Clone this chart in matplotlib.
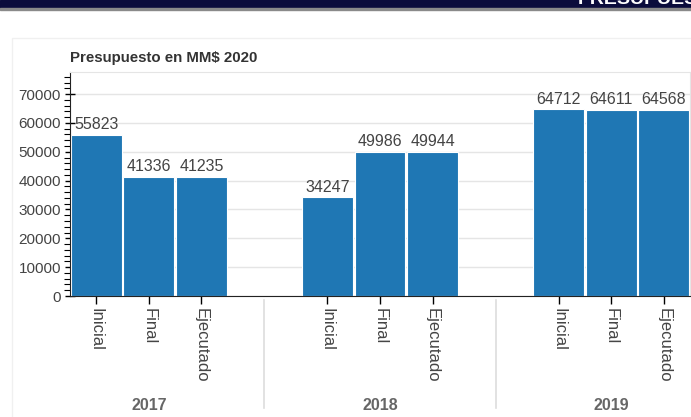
import matplotlib

matplotlib.use("Agg")
import matplotlib.pyplot as plt
import matplotlib.transforms as mtransforms
from matplotlib.patches import Rectangle
from matplotlib.ticker import MultipleLocator

# data
years = ["2017", "2018", "2019"]
stages = ["Inicial", "Final", "Ejecutado"]
inicial = [55823, 34247, 64712]
final = [41336, 49986, 64611]
ejecutado = [41235, 49944, 64568]

BLUE = "#1f77b4"
GREY_TXT = "#444444"
GROUP_PAD = 1.4

plt.rcParams.update({
    "font.family": ["Liberation Sans", "DejaVu Sans"],
    "font.size": 11,
})

W, H = 691, 417
fig = plt.figure(figsize=(W / 100, H / 100), dpi=100)

# page chrome: navy banner + grey rule + faint panel border
fig.patches.append(Rectangle((0, 1 - 7.5 / H), 1, 7.5 / H, transform=fig.transFigure,
                             color="#0b0c3c", zorder=0))
fig.patches.append(Rectangle((0, 1 - 10 / H), 1, 2.5 / H, transform=fig.transFigure,
                             color="#8a8a8a", zorder=0))
fig.patches.append(Rectangle((12 / W, -0.05), 1.1, 1.05 - 38 / H, transform=fig.transFigure,
                             facecolor="none", edgecolor="#f0f0f0", lw=1, zorder=0))
fig.text(578 / W, 1 - 4 / H, "PRESUPUESTO", color="white", fontsize=14, fontweight="bold",
         ha="left", va="baseline")

ax = fig.add_axes([70 / W, 121 / H, 620 / W, 224 / H])

series = [inicial, final, ejecutado]
centers, labels = [], []
for g, yr in enumerate(years):
    for i, st in enumerate(stages):
        x = g * (len(stages) + GROUP_PAD) + i + 0.5
        v = series[i][g]
        ax.bar(x, v, width=0.97, color=BLUE, edgecolor="white", lw=0.8, zorder=2)
        ax.text(x, v + 900, f"{v}", ha="center", va="bottom", color=GREY_TXT, fontsize=11.5)
        centers.append(x)
        labels.append(st)

span = len(years) * len(stages) + (len(years) - 1) * GROUP_PAD
ax.set_xlim(0, span)
ax.set_ylim(0, 77650)

ax.set_xticks(centers)
ax.set_xticklabels(labels, rotation=-90, color=GREY_TXT, fontsize=12)
ax.yaxis.set_major_locator(MultipleLocator(10000))
ax.yaxis.set_minor_locator(MultipleLocator(2000))
ax.tick_params(axis="y", which="major", direction="inout", length=7, width=1,
               labelcolor=GREY_TXT, labelsize=11, pad=3)
ax.tick_params(axis="y", which="minor", direction="out", length=4, width=0.8)
ax.tick_params(axis="x", which="major", direction="out", length=6, width=1, pad=3)

ax.grid(True, axis="y", color="#e5e5e5", lw=1, zorder=0)
ax.set_axisbelow(True)
for side in ("top", "right"):
    ax.spines[side].set_color("#e5e5e5")
for side in ("left", "bottom"):
    ax.spines[side].set_color("#222222")

ax.set_title("Presupuesto en MM$ 2020", loc="left", fontsize=10.8, fontweight="bold",
             color="#333333", pad=7)

# group separators and year labels under the axis
trans = mtransforms.blended_transform_factory(ax.transData, ax.transAxes)
for g in range(1, len(years)):
    xs = g * (len(stages) + GROUP_PAD) - GROUP_PAD / 2
    ax.plot([xs, xs], [-0.018, -0.5], color="#dddddd", lw=1.2, transform=trans, clip_on=False)
for g, yr in enumerate(years):
    xc = g * (len(stages) + GROUP_PAD) + len(stages) / 2
    ax.text(xc, -0.49, yr, transform=trans, ha="center", va="center", fontsize=11.5,
            fontweight="bold", color="#666666")

fig.savefig("out.png", dpi=100)
